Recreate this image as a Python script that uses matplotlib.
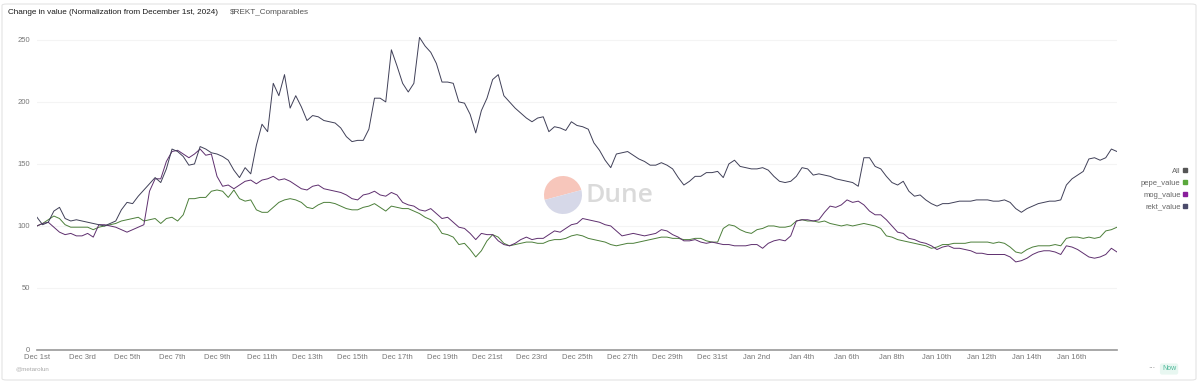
import numpy as np
import pandas as pd
import matplotlib
matplotlib.use("Agg")
import matplotlib.pyplot as plt
import matplotlib.dates as mdates
from matplotlib.lines import Line2D
from matplotlib.patches import Wedge, FancyBboxPatch

plt.rcParams['font.family'] = ['Liberation Sans', 'DejaVu Sans']

# 6-hourly samples from Dec 1st 2024
times = pd.date_range('2024-12-01', periods=193, freq='6h')

rekt_value = [
    107, 101, 103, 112, 115, 106, 104, 105, 104, 103, 102, 101,
    100, 102, 104, 113, 119, 118, 124, 129, 134, 139, 135, 146,
    162, 160, 156, 149, 150, 164, 162, 159, 158, 156, 153, 145,
    139, 147, 142, 165, 182, 176, 215, 205, 222, 195, 205, 196,
    185, 189, 188, 185, 184, 183, 179, 172, 168, 169, 169, 178,
    203, 203, 200, 242, 229, 215, 208, 215, 252, 245, 240, 231,
    216, 216, 215, 200, 199, 190, 175, 193, 203, 218, 222, 205,
    200, 195, 191, 187, 184, 187, 188, 176, 180, 179, 177, 184,
    181, 180, 178, 167, 161, 153, 147, 158, 159, 160, 157, 154,
    152, 149, 149, 151, 149, 146, 139, 133, 136, 140, 140, 143,
    143, 144, 139, 150, 153, 148, 147, 146, 146, 147, 145, 140,
    136, 135, 136, 140, 147, 146, 141, 142, 141, 140, 138, 137,
    136, 135, 132, 155, 155, 148, 146, 140, 135, 133, 136, 128,
    124, 125, 121, 118, 116, 118, 118, 119, 120, 120, 120, 121,
    121, 121, 120, 120, 121, 119, 114, 111, 114, 116, 118, 119,
    120, 120, 121, 133, 138, 141, 144, 154, 155, 153, 155, 162,
    160]

mog_value = [
    100, 102, 103, 99, 95, 93, 94, 92, 92, 94, 91, 101,
    101, 100, 99, 97, 95, 97, 99, 101, 128, 138, 138, 152,
    160, 161, 158, 155, 158, 162, 157, 158, 140, 132, 133, 130,
    133, 136, 137, 134, 137, 138, 140, 137, 138, 136, 133, 130,
    129, 132, 133, 130, 129, 128, 127, 125, 122, 121, 125, 126,
    128, 125, 124, 127, 125, 119, 117, 116, 113, 112, 114, 110,
    106, 107, 103, 99, 98, 94, 89, 94, 93, 93, 88, 85,
    84, 86, 89, 91, 89, 90, 90, 93, 96, 95, 98, 101,
    102, 106, 105, 104, 103, 101, 100, 96, 92, 93, 94, 93,
    92, 93, 94, 97, 96, 93, 91, 88, 88, 89, 87, 86,
    87, 86, 85, 85, 84, 84, 84, 85, 85, 82, 86, 88,
    89, 88, 92, 104, 105, 105, 104, 105, 111, 116, 115, 117,
    121, 119, 120, 117, 112, 109, 109, 105, 100, 95, 94, 90,
    89, 87, 86, 84, 81, 83, 84, 82, 82, 81, 80, 78,
    78, 77, 77, 77, 77, 75, 71, 72, 74, 77, 79, 80,
    80, 79, 77, 84, 83, 81, 78, 75, 74, 75, 77, 82,
    79]

pepe_value = [
    100, 102, 105, 108, 106, 101, 99, 99, 99, 99, 97, 99,
    100, 101, 102, 104, 105, 106, 107, 104, 105, 106, 102, 106,
    107, 104, 109, 122, 122, 123, 123, 128, 129, 128, 123, 129,
    122, 120, 121, 113, 111, 111, 115, 119, 121, 122, 121, 119,
    115, 114, 117, 119, 119, 118, 116, 114, 113, 113, 115, 116,
    118, 115, 112, 116, 115, 114, 114, 112, 110, 107, 105, 101,
    94, 93, 91, 85, 86, 81, 75, 80, 88, 93, 91, 86,
    84, 85, 86, 87, 87, 86, 86, 88, 89, 89, 90, 92,
    93, 92, 90, 89, 88, 87, 85, 84, 85, 86, 86, 87,
    88, 89, 90, 91, 91, 90, 90, 89, 89, 90, 90, 88,
    87, 87, 98, 101, 100, 97, 95, 94, 97, 98, 100, 100,
    99, 99, 100, 104, 105, 104, 104, 103, 104, 102, 101, 100,
    101, 100, 101, 102, 101, 100, 98, 92, 91, 89, 88, 87,
    86, 85, 84, 82, 83, 85, 85, 86, 86, 86, 87, 87,
    87, 87, 86, 87, 86, 83, 79, 78, 81, 83, 84, 84,
    84, 85, 84, 90, 91, 91, 90, 91, 90, 91, 96, 97,
    99]

tick_dates = pd.date_range('2024-12-01', '2025-01-16', freq='2D')
tick_labels = ['Dec 1st', 'Dec 3rd', 'Dec 5th', 'Dec 7th', 'Dec 9th', 'Dec 11th',
               'Dec 13th', 'Dec 15th', 'Dec 17th', 'Dec 19th', 'Dec 21st',
               'Dec 23rd', 'Dec 25th', 'Dec 27th', 'Dec 29th', 'Dec 31st',
               'Jan 2nd', 'Jan 4th', 'Jan 6th', 'Jan 8th', 'Jan 10th',
               'Jan 12th', 'Jan 14th', 'Jan 16th']
y_ticks = [0, 50, 100, 150, 200, 250]

legend_labels = ['All', 'pepe_value', 'mog_value', 'rekt_value']
legend_colors = ['#555555', '#5aa83c', '#8a1e9c', '#4b4b6b']

W, H = 1199, 383
fig = plt.figure(figsize=(W / 100, H / 100), dpi=100)

# card border
fig.patches.append(FancyBboxPatch((2 / W, 3 / H), (W - 5) / W, (H - 7) / H,
                                  boxstyle='round,pad=0,rounding_size=0.004',
                                  transform=fig.transFigure, fc='white',
                                  ec='#e4e4e4', lw=0.8, zorder=-10))

fig.text(8 / W, 1 - 12 / H, 'Change in value (Normalization from December 1st, 2024)',
         fontsize=5.9, color='#1a1a1a', va='center', ha='left')
fig.text(230 / W, 1 - 12 / H, '$REKT_Comparables', fontsize=5.9, color='#555555',
         va='center', ha='left')

ax = fig.add_axes([37 / W, 1 - 350 / H, 1080 / W, 325 / H])
ax.set_facecolor('none')

ax.plot(times, pepe_value, color='#4c7f3a', lw=0.7, zorder=3)
ax.plot(times, mog_value, color='#5e2f6e', lw=0.7, zorder=4)
ax.plot(times, rekt_value, color='#404058', lw=0.7, zorder=5)

ax.set_xlim(times[0], times[-1])
ax.set_ylim(0, 262)
ax.set_yticks(y_ticks)
ax.set_yticklabels([str(v) for v in y_ticks])
ax.set_xticks(tick_dates)
ax.set_xticklabels(tick_labels)
ax.tick_params(axis='both', length=0, labelsize=5.5, labelcolor='#777777')
ax.tick_params(axis='y', pad=5)
ax.tick_params(axis='x', pad=3)
for s in ['top', 'right', 'left']:
    ax.spines[s].set_visible(False)
ax.spines['bottom'].set_color('#999999')
ax.spines['bottom'].set_linewidth(1.2)
ax.yaxis.grid(True, color='#f4f4f4', lw=0.8)
ax.set_axisbelow(True)

# legend
handles = [Line2D([], [], marker='s', linestyle='', color=c, markersize=3.5)
           for c in legend_colors]
leg = fig.legend(handles, legend_labels, loc='center right',
                 bbox_to_anchor=(1192 / W, 1 - 189 / H), markerfirst=False,
                 frameon=False, fontsize=5.5, labelspacing=0.6,
                 handletextpad=0.2, handlelength=0.8, borderpad=0)
for t in leg.get_texts():
    t.set_color('#666666')
    t.set_ha('right')

# Dune watermark
wax = fig.add_axes([(563 - 20) / W, 1 - (195 + 20) / H, 40 / W, 40 / H])
wax.set_xlim(-1, 1)
wax.set_ylim(-1, 1)
wax.set_aspect('equal')
wax.axis('off')
wax.add_patch(Wedge((0, 0), 0.95, 15, 195, fc='#f7c6bb', ec='none'))
wax.add_patch(Wedge((0, 0), 0.95, 195, 375, fc='#d6d8e8', ec='none'))
fig.text(586 / W, 1 - 196 / H, 'Dune', fontsize=19, color='#dadada',
         fontweight='semibold', family=['Open Sans', 'DejaVu Sans'],
         va='center', ha='left')

# footer
fig.text(15 / W, 1 - 369 / H, '@metarolun', fontsize=4.5, color='#aaaaaa',
         va='center', ha='left')
fig.text(1155 / W, 1 - 369 / H, '···', fontsize=5, color='#777777',
         va='center', ha='right')
fig.text(1162 / W, 1 - 369 / H, 'Now', fontsize=5, color='#4fb89a',
         va='center', ha='left',
         bbox=dict(boxstyle='round,pad=0.3', fc='#e8f7f1', ec='none'))

fig.savefig('out.png', dpi=100)
